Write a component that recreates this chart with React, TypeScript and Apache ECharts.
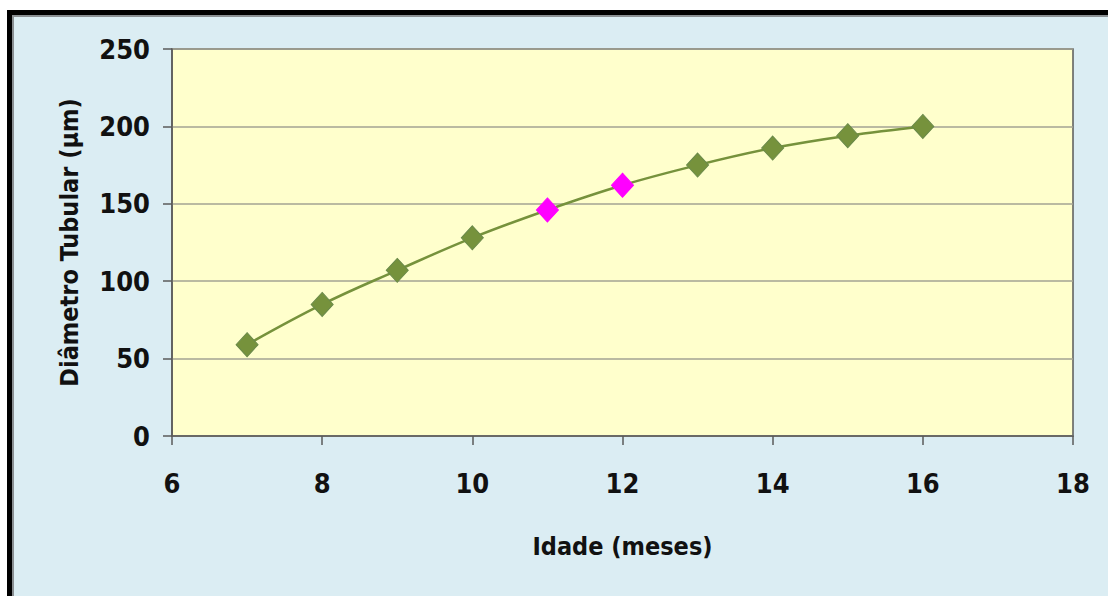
import React, { useEffect, useRef } from "react";
import * as echarts from "echarts";

// Age in months and mean tubular diameter (µm)
const ages: number[] = [7, 8, 9, 10, 11, 12, 13, 14, 15, 16];
const diameters: number[] = [59, 85, 107, 128, 146, 162, 175, 186, 194, 200];
// Months whose markers are drawn in magenta
const highlightedAges: number[] = [11, 12];

const xTicks = { min: 6, max: 18, interval: 2 };
const yTicks = { min: 0, max: 250, interval: 50 };

const FONT = "'Liberation Sans Narrow', 'DejaVu Sans Condensed', 'Liberation Sans', sans-serif";
const OLIVE = "#76923c";
const MAGENTA = "#ff00ff";

export default function App() {
  const ref = useRef<HTMLDivElement>(null);

  useEffect(() => {
    if (!ref.current) return;
    const chart = echarts.init(ref.current, undefined, { renderer: "svg" });

    const points = ages.map((a, i) => {
      const hot = highlightedAges.includes(a);
      return {
        value: [a, diameters[i]],
        itemStyle: { color: hot ? MAGENTA : OLIVE, borderColor: hot ? MAGENTA : "#6a8a4a", borderWidth: 1 },
      };
    });

    chart.setOption({
      animation: false,
      backgroundColor: "transparent",
      grid: {
        left: 172,
        top: 49,
        width: 901,
        height: 387,
        show: true,
        backgroundColor: "#ffffcc",
        borderColor: "#5a5a5a",
        borderWidth: 1.5,
      },
      xAxis: {
        type: "value",
        min: xTicks.min,
        max: xTicks.max,
        interval: xTicks.interval,
        name: "Idade (meses)",
        nameLocation: "middle",
        nameGap: 98,
        nameTextStyle: { fontFamily: FONT, fontWeight: "bold", fontSize: 25, color: "#111" },
        axisLine: { show: true, lineStyle: { color: "#5a5a5a", width: 1.5 } },
        axisTick: { show: true, inside: false, length: 9, lineStyle: { color: "#5a5a5a", width: 1.5 } },
        axisLabel: { margin: 34, fontFamily: FONT, fontWeight: "bold", fontSize: 27, color: "#111" },
        splitLine: { show: false },
      },
      yAxis: {
        type: "value",
        min: yTicks.min,
        max: yTicks.max,
        interval: yTicks.interval,
        name: "Diâmetro Tubular (µm)",
        nameLocation: "middle",
        nameGap: 90,
        nameRotate: 90,
        nameTextStyle: { fontFamily: FONT, fontWeight: "bold", fontSize: 25, color: "#111" },
        axisLine: { show: true, lineStyle: { color: "#5a5a5a", width: 1.5 } },
        axisTick: { show: true, inside: false, length: 9, lineStyle: { color: "#5a5a5a", width: 1.5 } },
        axisLabel: { margin: 22, fontFamily: FONT, fontWeight: "bold", fontSize: 27, color: "#111" },
        splitLine: { show: true, lineStyle: { color: "#a3a393", width: 1.5 } },
      },
      series: [
        {
          type: "line",
          data: points,
          smooth: 0.4,
          symbol: "diamond",
          symbolSize: [22, 24],
          lineStyle: { color: OLIVE, width: 2.5 },
          z: 3,
        },
      ],
    });

    return () => chart.dispose();
  }, []);

  return (
    <div style={{ position: "fixed", left: 0, top: 0, width: 1108, height: 596, background: "#ffffff", overflow: "hidden" }}>
      <div
        style={{
          position: "absolute",
          left: 7,
          top: 10,
          width: 1101,
          height: 586,
          boxSizing: "border-box",
          borderTop: "5px solid #000",
          borderLeft: "5px solid #000",
          background: "#dbedf3",
          boxShadow: "inset 2px 2px 0 #8a8f92",
        }}
      />
      <div ref={ref} style={{ position: "absolute", left: 0, top: 0, width: 1108, height: 596 }} />
    </div>
  );
}
